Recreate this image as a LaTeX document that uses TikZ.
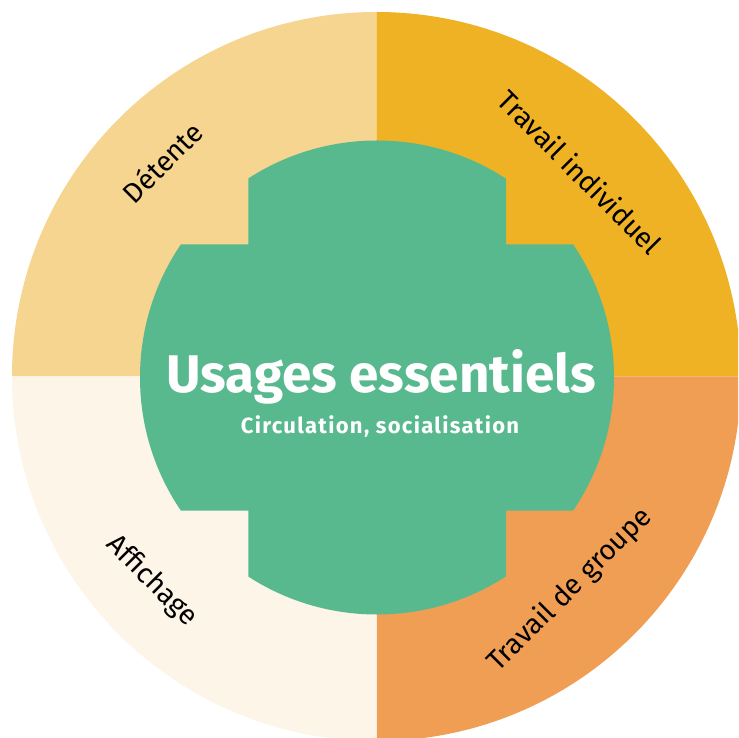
\documentclass[tikz,border=0pt]{standalone}
\usepackage{fontspec}
\setmainfont{Fira Sans}
\definecolor{detente}{HTML}{F5D590}
\definecolor{individuel}{HTML}{EEB224}
\definecolor{groupe}{HTML}{F09E54}
\definecolor{affichage}{HTML}{FCF5E8}
\definecolor{essentiel}{HTML}{58B98F}
\tikzset{
  quadlabel/.style={font=\fontsize{28}{32}\selectfont, text=black, inner sep=0pt},
}
\begin{document}
\begin{tikzpicture}[x=1pt,y=1pt]
                % Canvas
                \clip (-376.5,-361.5) rectangle (361.5,376.5);
                \fill[white] (-376.5,-361.5) rectangle (361.5,376.5);
                
                % Outer quadrants
                \fill[detente] (0,0) -- (180:364.5) arc[start angle=180, end angle=90, radius=364.5] -- cycle;
                \fill[individuel] (0,0) -- (90:364.5) arc[start angle=90, end angle=0, radius=364.5] -- cycle;
                \fill[groupe] (0,0) -- (0:364.5) arc[start angle=0, end angle=-90, radius=364.5] -- cycle;
                \fill[affichage] (0,0) -- (-90:364.5) arc[start angle=-90, end angle=-180, radius=364.5] -- cycle;
                
                % Central cross - disc cut to two bands
                \begin{scope}
                    \clip (-128,-400) rectangle (129.5,400) (-400,-134) rectangle (400,132);
                    \fill[essentiel] (0.5,-1) circle (237);
                \end{scope}
                
                % Titles
                \node[text=white, inner sep=0pt, anchor=base, font=\bfseries\fontsize{53}{58}\selectfont] (titre) at (4.5,-16.5) {Usages essentiels};
                \node[text=white, inner sep=0pt, anchor=base, font=\bfseries\fontsize{22}{26}\selectfont\addfontfeatures{LetterSpace=6}] (soustitre) at (3.5,-57.5) {Circulation, socialisation};
                
                % Quadrant labels
                \node[quadlabel, rotate=45] (detente) at (-214.5,214.5) {Détente};
                \node[quadlabel, rotate=-45] (individuel) at (203.5,204.5) {Travail individuel};
                \node[quadlabel, rotate=-45] (affichage) at (-225,-205) {Affichage};
                \node[quadlabel, rotate=45] (groupe) at (193.5,-213.5) {Travail de groupe};
\end{tikzpicture}
\end{document}
